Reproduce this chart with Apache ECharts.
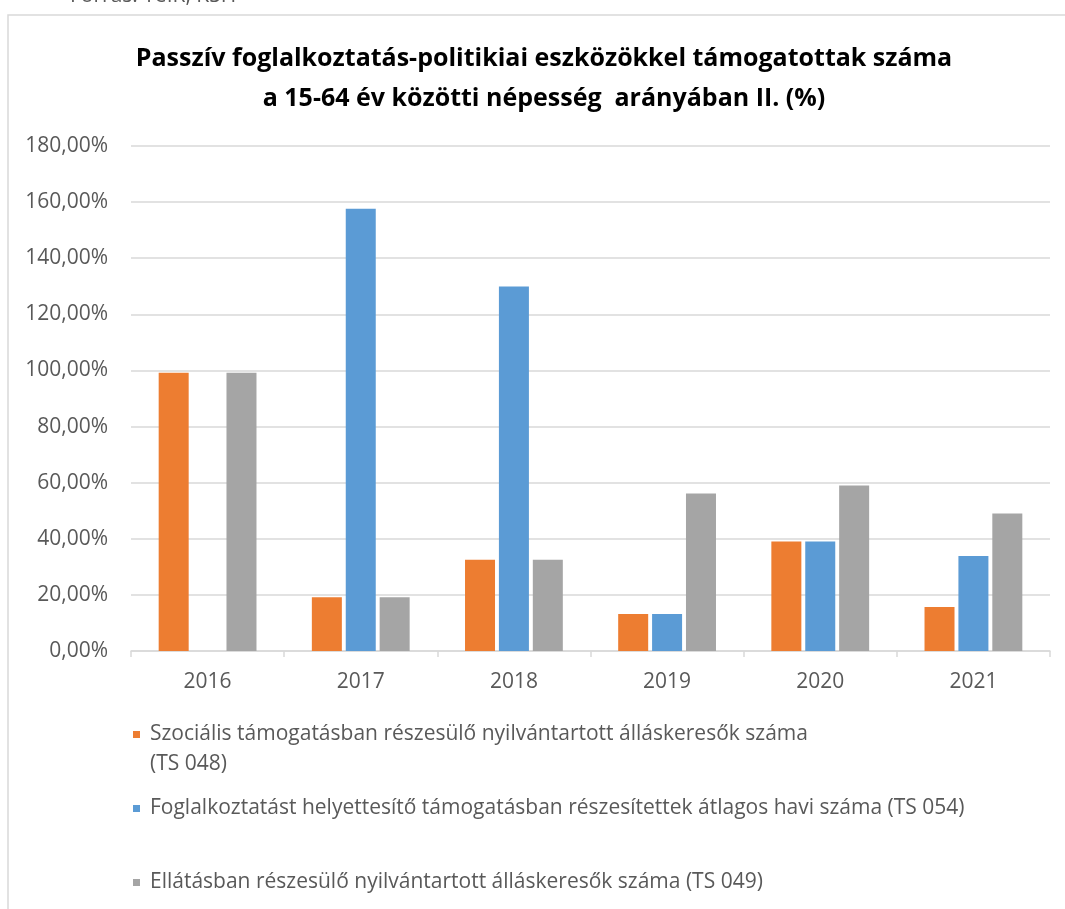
<!DOCTYPE html>
<html>
<head>
<meta charset="utf-8">
<script src="https://cdn.jsdelivr.net/npm/echarts@6/dist/echarts.min.js"></script>
<style>
html,body{margin:0;padding:0;background:#fff;}
#chart{width:1065px;height:909px;}
</style>
</head>
<body>
<div id="chart"></div>
<script>
const categories = ['2016', '2017', '2018', '2019', '2020', '2021'];
const seriesNames = [
  'Szociális támogatásban részesülő nyilvántartott álláskeresők száma (TS 048)',
  'Foglalkoztatást helyettesítő támogatásban részesítettek átlagos havi száma (TS 054)',
  'Ellátásban részesülő nyilvántartott álláskeresők száma (TS 049)'
];
const ts048 = [99.2, 19.2, 32.5, 13.2, 39.0, 15.7];
const ts054 = [null, 157.6, 129.9, 13.2, 39.0, 33.9];
const ts049 = [99.2, 19.2, 32.5, 56.1, 59.0, 49.0];
const titleLines = ['Passzív foglalkoztatás-politikiai eszközökkel támogatottak száma', 'a 15-64 év közötti népesség  arányában II. (%)'];
const sourceText = 'Forrás: TeIR, KSH';

const FONT = 'Open Sans';
const TXT = '#595959';
const colors = ['#ED7D31', '#5B9BD5', '#A5A5A5'];

const chart = echarts.init(document.getElementById('chart'), null, {renderer: 'canvas'});

function legendDef(i, top, fmt) {
  return {
    data: [seriesNames[i]],
    left: 133, top: top, padding: 0,
    icon: 'rect', itemWidth: 7, itemHeight: 7,
    selectedMode: false,
    formatter: fmt,
    textStyle: {fontFamily: FONT, fontSize: 21, color: TXT, lineHeight: 21, padding: [0, 0, 0, 5]}
  };
}

const option = {
  animation: false,
  color: colors,
  title: {
    text: titleLines.join('\n'),
    left: 539, top: 34,
    textAlign: 'center',
    padding: 5,
    textStyle: {fontFamily: FONT, fontWeight: 'bold', fontSize: 25, lineHeight: 40, color: '#000'}
  },
  grid: {left: 131, right: 15, top: 146, bottom: 258, containLabel: false},
  legend: [
    legendDef(0, 724, function (n) { return n.replace(' (TS 048)', ''); }),
    legendDef(1, 798),
    legendDef(2, 872)
  ],
  xAxis: {
    type: 'category',
    data: categories,
    axisLine: {lineStyle: {color: '#d9d9d9', width: 1.5}},
    axisTick: {show: true, length: 6, lineStyle: {color: '#d9d9d9', width: 1.5}},
    axisLabel: {fontFamily: FONT, fontSize: 21, color: TXT, margin: 21}
  },
  yAxis: {
    type: 'value',
    min: 0, max: 180, interval: 20,
    axisLine: {show: false},
    axisTick: {show: false},
    splitLine: {lineStyle: {color: '#d9d9d9', width: 1.5}},
    axisLabel: {
      fontFamily: FONT, fontSize: 21, color: TXT, margin: 23,
      formatter: function (v) { return v.toFixed(2).replace('.', ',') + '%'; }
    }
  },
  graphic: [
    {type: 'rect', silent: true, shape: {x: 8, y: 15, width: 1100, height: 950},
     style: {fill: 'none', stroke: '#d9d9d9', lineWidth: 1.5}, z: -10},
    {type: 'text', left: 70, top: -14, silent: true,
     style: {text: sourceText, font: '21px "Open Sans"', fill: TXT}},
    {type: 'text', left: 150, top: 754, silent: true,
     style: {text: '(TS 048)', font: '21px "Open Sans"', fill: TXT}}
  ],
  series: [
    {name: seriesNames[0], type: 'bar', data: ts048, barWidth: 30, barGap: '13%'},
    {name: seriesNames[1], type: 'bar', data: ts054, barWidth: 30, barGap: '13%'},
    {name: seriesNames[2], type: 'bar', data: ts049, barWidth: 30, barGap: '13%'}
  ]
};
chart.setOption(option);
</script>
</body>
</html>
